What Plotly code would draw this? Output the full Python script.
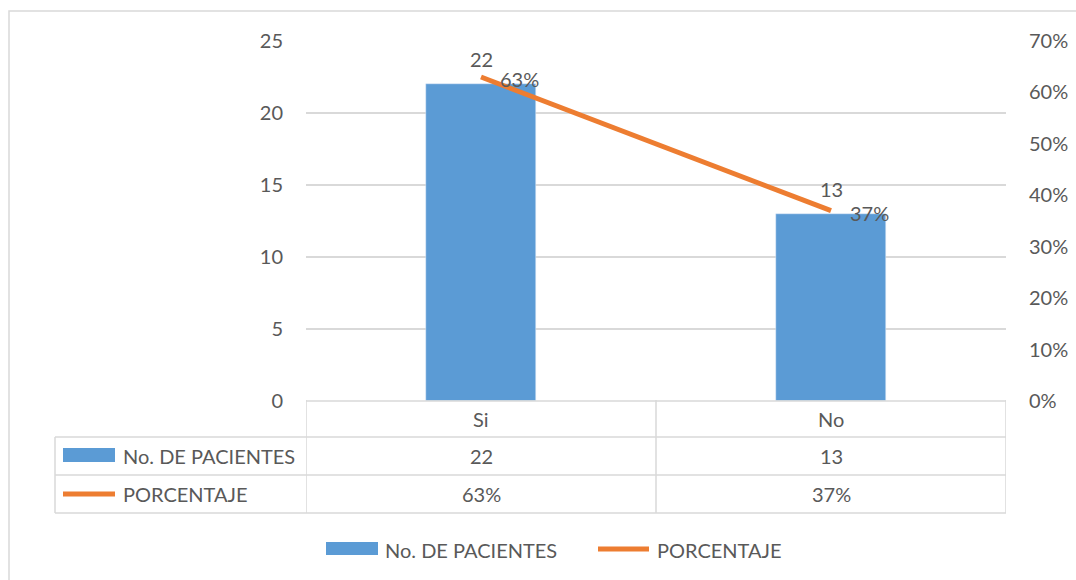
import plotly.graph_objects as go

# ---- data ----
categories = ["Si", "No"]
pacientes = [22, 13]
porcentaje = [0.63, 0.37]
pct_labels = ["63%", "37%"]
series_names = ["No. DE PACIENTES", "PORCENTAJE"]
left_ticks = [0, 5, 10, 15, 20, 25]
right_ticks = [0, 0.1, 0.2, 0.3, 0.4, 0.5, 0.6, 0.7]

# ---- style ----
W, H = 1076, 580
BLUE = "#5B9BD5"
ORANGE = "#ED7D31"
TXT = "#595959"
GRID = "#D9D9D9"
FONT = "Lato"
FS = 20


def px(x):
    return x / W


def py(y):
    return 1 - y / H


fig = go.Figure()
fig.add_trace(go.Bar(x=categories, y=pacientes, name=series_names[0],
                     marker_color=BLUE, width=0.315, yaxis="y"))
fig.add_trace(go.Scatter(x=categories, y=porcentaje, name=series_names[1],
                         mode="lines", line=dict(color=ORANGE, width=5), yaxis="y2"))

plot_l, plot_r, plot_t, plot_b = 306, 1006, 41, 401

fig.update_layout(
    width=W, height=H,
    margin=dict(l=0, r=0, t=0, b=0, autoexpand=False),
    paper_bgcolor="white", plot_bgcolor="white",
    showlegend=False,
    font=dict(family=FONT, size=FS, color=TXT),
    xaxis=dict(domain=[px(plot_l), px(plot_r)], range=[-0.5, 1.5],
               type="category", showticklabels=False, showgrid=False,
               showline=False, zeroline=False, automargin=False),
    yaxis=dict(domain=[py(plot_b), py(plot_t)], range=[0, 25],
               tickvals=left_ticks, showgrid=True, gridcolor=GRID, gridwidth=1.5,
               zeroline=False, showline=False, ticks="", ticklabelstandoff=22,
               automargin=False,
               tickfont=dict(family=FONT, size=FS, color=TXT)),
    yaxis2=dict(overlaying="y", side="right", range=[0, 0.7],
                tickvals=right_ticks, tickformat=".0%", showgrid=False,
                zeroline=False, showline=False, ticks="", ticklabelstandoff=22,
                automargin=False,
                tickfont=dict(family=FONT, size=FS, color=TXT)),
    bargap=0,
)

shapes = []
annotations = []

# outer chart border (right / bottom edges fall outside the image)
shapes.append(dict(type="rect", xref="paper", yref="paper",
                   x0=px(9), x1=1.02, y0=-0.02, y1=py(11),
                   line=dict(color=GRID, width=1.5), layer="below"))

# data table lines
row_tops = [401, 437, 475, 513]
tbl_left = 55
for i, yy in enumerate(row_tops):
    shapes.append(dict(type="line", xref="paper", yref="paper",
                       x0=px(plot_l if i == 0 else tbl_left), x1=px(plot_r),
                       y0=py(yy), y1=py(yy), line=dict(color=GRID, width=1.5)))
shapes.append(dict(type="line", xref="paper", yref="paper",
                   x0=px(tbl_left), x1=px(tbl_left), y0=py(437), y1=py(513),
                   line=dict(color=GRID, width=1.5)))
for xv in [-0.5, 0.5, 1.5]:
    shapes.append(dict(type="line", xref="x", yref="paper",
                       x0=xv, x1=xv, y0=py(400), y1=py(513),
                       line=dict(color=GRID, width=1.5)))

# table cells
row_centers = [419, 456, 494]
for i, cat in enumerate(categories):
    annotations.append(dict(x=cat, y=py(row_centers[0]), xref="x", yref="paper",
                            text=cat, showarrow=False, xanchor="center", yanchor="middle"))
    annotations.append(dict(x=cat, y=py(row_centers[1]), xref="x", yref="paper",
                            text=str(pacientes[i]), showarrow=False, xanchor="center", yanchor="middle"))
    annotations.append(dict(x=cat, y=py(row_centers[2]), xref="x", yref="paper",
                            text=pct_labels[i], showarrow=False, xanchor="center", yanchor="middle"))

# table row headers with keys
shapes.append(dict(type="rect", xref="paper", yref="paper",
                   x0=px(63), x1=px(115), y0=py(462), y1=py(448),
                   fillcolor=BLUE, line=dict(width=0)))
shapes.append(dict(type="line", xref="paper", yref="paper",
                   x0=px(63), x1=px(115), y0=py(494), y1=py(494),
                   line=dict(color=ORANGE, width=5)))
annotations.append(dict(x=px(121), y=py(456), xref="paper", yref="paper",
                        text=series_names[0], showarrow=False, xanchor="left", yanchor="middle"))
annotations.append(dict(x=px(121), y=py(494), xref="paper", yref="paper",
                        text=series_names[1], showarrow=False, xanchor="left", yanchor="middle"))

# data labels
for i, cat in enumerate(categories):
    annotations.append(dict(x=cat, y=pacientes[i], xref="x", yref="y",
                            text=str(pacientes[i]), showarrow=False,
                            xanchor="center", yanchor="middle", yshift=25))
    annotations.append(dict(x=cat, y=porcentaje[i], xref="x", yref="y2",
                            text=pct_labels[i], showarrow=False,
                            xanchor="left", yanchor="middle", xshift=17, yshift=-2))

# bottom legend
shapes.append(dict(type="rect", xref="paper", yref="paper",
                   x0=px(326), x1=px(378), y0=py(555), y1=py(542),
                   fillcolor=BLUE, line=dict(width=0)))
shapes.append(dict(type="line", xref="paper", yref="paper",
                   x0=px(598), x1=px(649), y0=py(549), y1=py(549),
                   line=dict(color=ORANGE, width=5)))
annotations.append(dict(x=px(383), y=py(550), xref="paper", yref="paper",
                        text=series_names[0], showarrow=False, xanchor="left", yanchor="middle"))
annotations.append(dict(x=px(655), y=py(550), xref="paper", yref="paper",
                        text=series_names[1], showarrow=False, xanchor="left", yanchor="middle"))

fig.update_layout(shapes=shapes, annotations=annotations)
fig.write_html("out.html")
